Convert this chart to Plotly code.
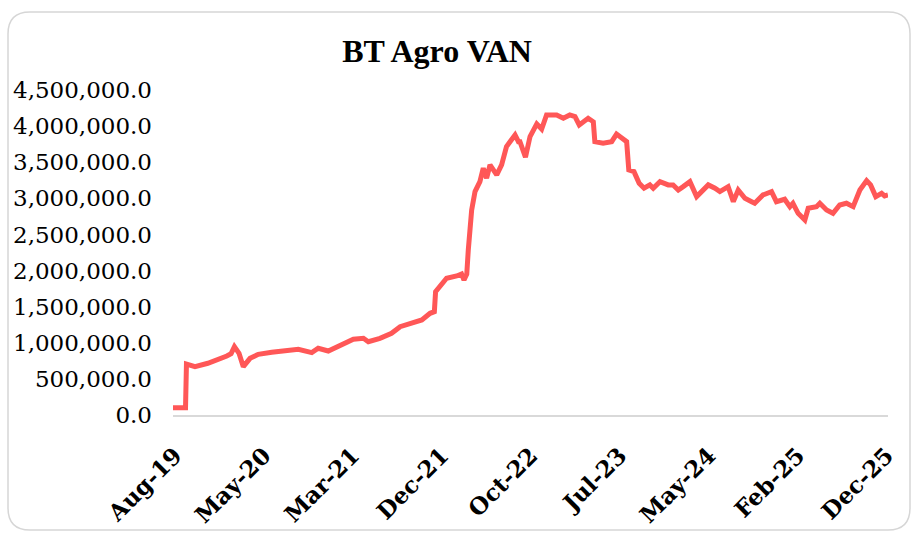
import plotly.graph_objects as go

# ---- data ----
dates = [
    "2019-07-25", "2019-09-04", "2019-09-07", "2019-10-05", "2019-11-16", "2019-12-20",
    "2020-01-17", "2020-01-31", "2020-02-11", "2020-02-26", "2020-03-11", "2020-04-02",
    "2020-04-29", "2020-06-12", "2020-07-26", "2020-09-07", "2020-10-21", "2020-11-11",
    "2020-12-14", "2021-01-21", "2021-02-07", "2021-03-06", "2021-04-08", "2021-04-24",
    "2021-06-01", "2021-07-09", "2021-08-06", "2021-09-07", "2021-10-16", "2021-11-12",
    "2021-11-26", "2021-11-30", "2022-01-05", "2022-02-07", "2022-02-23", "2022-03-03",
    "2022-03-12", "2022-03-17", "2022-03-22", "2022-03-28", "2022-04-08", "2022-04-24",
    "2022-05-05", "2022-05-16", "2022-05-27", "2022-06-18", "2022-07-04", "2022-07-20",
    "2022-08-17", "2022-08-28", "2022-09-02", "2022-09-20", "2022-10-05", "2022-10-27",
    "2022-11-12", "2022-11-28", "2022-12-31", "2023-01-22", "2023-02-12", "2023-03-01",
    "2023-03-15", "2023-04-13", "2023-04-30", "2023-05-05", "2023-06-01", "2023-06-29",
    "2023-07-15", "2023-08-06", "2023-08-17", "2023-08-24", "2023-09-10", "2023-09-27",
    "2023-10-13", "2023-11-01", "2023-11-12", "2023-12-04", "2023-12-31", "2024-01-16",
    "2024-02-02", "2024-02-18", "2024-03-11", "2024-04-02", "2024-04-18", "2024-05-10",
    "2024-06-01", "2024-06-17", "2024-07-14", "2024-07-31", "2024-08-16", "2024-09-07",
    "2024-09-29", "2024-10-09", "2024-11-05", "2024-12-03", "2024-12-19", "2025-01-15",
    "2025-02-01", "2025-02-11", "2025-02-28", "2025-03-22", "2025-04-02", "2025-04-29",
    "2025-05-10", "2025-06-01", "2025-06-22", "2025-07-14", "2025-08-05", "2025-08-27",
    "2025-09-18", "2025-10-10", "2025-10-23", "2025-11-09", "2025-11-28", "2025-12-08",
    "2025-12-19",
]
van = [
    100000, 100000, 706000, 669000, 716000, 762000,
    817000, 850000, 946000, 855000, 669000, 785000,
    840000, 868000, 882000, 910000, 863000, 924000,
    886000, 955000, 993000, 1048000, 1062000, 1015000,
    1062000, 1131000, 1223000, 1270000, 1316000, 1408000,
    1431000, 1708000, 1893000, 1925000, 1953000, 1870000,
    1950000, 2285000, 2516000, 2839000, 3093000, 3231000,
    3417000, 3278000, 3463000, 3324000, 3463000, 3716000,
    3878000, 3785000, 3785000, 3570000, 3855000, 4030000,
    3960000, 4155000, 4155000, 4109000, 4155000, 4132000,
    4017000, 4109000, 4060000, 3785000, 3763000, 3785000,
    3890000, 3832000, 3785000, 3393000, 3370000, 3209000,
    3140000, 3186000, 3140000, 3231000, 3186000, 3186000,
    3116000, 3162000, 3231000, 3024000, 3093000, 3186000,
    3140000, 3093000, 3162000, 2954000, 3116000, 3001000,
    2954000, 2932000, 3047000, 3093000, 2954000, 2987000,
    2885000, 2932000, 2793000, 2701000, 2863000, 2885000,
    2932000, 2839000, 2793000, 2908000, 2932000, 2885000,
    3116000, 3245000, 3186000, 3024000, 3070000, 3033000,
    3047000,
]
tick_dates = ["2019-08-01", "2020-05-18", "2021-03-04", "2021-12-21", "2022-10-08",
              "2023-07-26", "2024-05-12", "2025-02-27", "2025-12-15"]
tick_labels = ["Aug-19", "May-20", "Mar-21", "Dec-21", "Oct-22",
               "Jul-23", "May-24", "Feb-25", "Dec-25"]
y_ticks = [0, 500000, 1000000, 1500000, 2000000, 2500000, 3000000, 3500000, 4000000, 4500000]
title_text = "BT Agro VAN"

# ---- layout geometry (pixels) ----
W, H = 914, 535
L, R, T, B = 173, 888, 90, 415
pw, ph = R - L, B - T

def px(x):
    return (x - L) / pw

def py(y):
    return (B - y) / ph

fig = go.Figure()
fig.add_trace(go.Scatter(
    x=dates, y=van, mode="lines",
    line=dict(color="#FF5757", width=5),
    hoverinfo="skip", showlegend=False,
))

# rounded outer border
bx0, by0, bx1, by1, r = 8, 12, 910, 530, 22
rx, ry = r / pw, r / ph
path = (
    f"M {px(bx0)+rx},{py(by0)} L {px(bx1)-rx},{py(by0)} Q {px(bx1)},{py(by0)} {px(bx1)},{py(by0)-ry} "
    f"L {px(bx1)},{py(by1)+ry} Q {px(bx1)},{py(by1)} {px(bx1)-rx},{py(by1)} "
    f"L {px(bx0)+rx},{py(by1)} Q {px(bx0)},{py(by1)} {px(bx0)},{py(by1)+ry} "
    f"L {px(bx0)},{py(by0)-ry} Q {px(bx0)},{py(by0)} {px(bx0)+rx},{py(by0)} Z"
)
fig.add_shape(type="path", path=path, xref="paper", yref="paper",
              line=dict(color="#D6D6D6", width=1.5), fillcolor="rgba(0,0,0,0)", layer="below")

fig.update_layout(
    width=W, height=H,
    margin=dict(l=L, r=W - R, t=T, b=H - B, pad=0),
    paper_bgcolor="white", plot_bgcolor="white",
    title=dict(text=title_text, x=437 / W, xref="container", xanchor="center",
               y=1 - 51 / H, yref="container", yanchor="middle",
               font=dict(family="Liberation Serif", size=32, color="#000000", weight="bold")),
    font=dict(family="DejaVu Serif", color="#000000"),
)
fig.update_xaxes(
    type="date", range=[dates[0], dates[-1]], automargin=False,
    tickmode="array", tickvals=tick_dates, ticktext=tick_labels, tickangle=-45,
    tickfont=dict(family="DejaVu Serif", size=23, color="#000000", weight="bold"),
    showgrid=False, zeroline=False, showline=True, linecolor="#D9D9D9", linewidth=2,
    ticks="", ticklabelstandoff=16,
)
fig.update_yaxes(
    range=[0, 4500000], tickmode="array", tickvals=y_ticks, tickformat=",.1f", automargin=False,
    tickfont=dict(family="DejaVu Serif", size=23, color="#000000"),
    showgrid=False, zeroline=False, showline=False, ticks="", ticklabelstandoff=20,
)

fig.write_html("out.html", config={"displayModeBar": False},
               post_script="document.body.style.margin='0';document.body.style.overflow='hidden';")
